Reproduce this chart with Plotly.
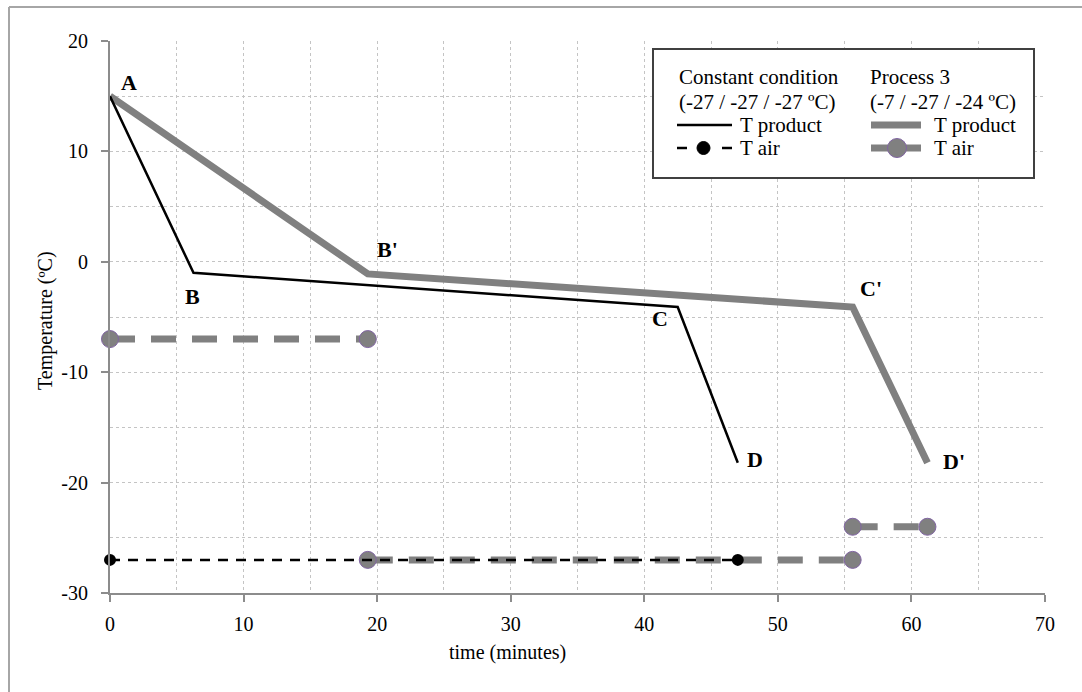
import plotly.graph_objects as go

# ---------------- data ----------------
# Constant condition (-27 / -27 / -27 ºC)
t_prod_const = [0, 6.25, 42.5, 47.0]
T_prod_const = [15, -1.0, -4.1, -18.2]
t_air_const = [0, 47.0]
T_air_const = [-27, -27]

# Process 3 (-7 / -27 / -24 ºC)
t_prod_p3 = [0, 19.3, 55.6, 61.2]
T_prod_p3 = [15, -1.1, -4.1, -18.2]
t_air_p3 = [0, 19.3, None, 19.3, 55.6, None, 55.6, 61.2]
T_air_p3 = [-7, -7, None, -27, -27, None, -24, -24]

# point labels (text, t, T)
point_labels = ["A", "B", "B'", "C", "C'", "D", "D'"]
label_t = [1.4, 6.2, 20.8, 41.2, 57.0, 48.3, 63.2]
label_T = [16.2, -3.1, 1.1, -5.1, -2.4, -17.9, -18.1]

x_ticks = [0, 10, 20, 30, 40, 50, 60, 70]
x_ticktext = ["0", "10", "20", "30", "40", "50", "60", "70"]
y_ticks = [-30, -20, -10, 0, 10, 20]
y_ticktext = ["-30", "-20", "-10", "0", "10", "20"]

# ---------------- layout geometry ----------------
W, H = 1082, 692
ML, MR, MT, MB = 110, 37, 41, 99
PW, PH = W - ML - MR, H - MT - MB


def px(x):
    return (x - ML) / PW


def py(y):
    return (H - MB - y) / PH


SERIF = "Liberation Serif"
GRAY = "#808080"
AXIS = "#8c8c8c"
GRID = "#c4c4c4"

fig = go.Figure()

# Process 3 air (grey dashed, circles)
fig.add_trace(go.Scatter(
    x=t_air_p3, y=T_air_p3, mode="lines+markers",
    line=dict(color=GRAY, width=7, dash="25px,16px"),
    marker=dict(size=17, color=GRAY, line=dict(color="#8064a2", width=1)),
    showlegend=False, connectgaps=False, cliponaxis=False))
# Process 3 product (grey thick)
fig.add_trace(go.Scatter(
    x=t_prod_p3, y=T_prod_p3, mode="lines",
    line=dict(color=GRAY, width=7), showlegend=False, cliponaxis=False))
# Constant product (black thin)
fig.add_trace(go.Scatter(
    x=t_prod_const, y=T_prod_const, mode="lines",
    line=dict(color="black", width=2.5), showlegend=False, cliponaxis=False))
# Constant air (black dashed, dots)
fig.add_trace(go.Scatter(
    x=t_air_const, y=T_air_const, mode="lines+markers",
    line=dict(color="black", width=2.5, dash="10px,8px"),
    marker=dict(size=12, color="black"), showlegend=False, cliponaxis=False))

# point letters
for txt, xt, yt in zip(point_labels, label_t, label_T):
    fig.add_annotation(x=xt, y=yt, xref="x", yref="y", text=f"<b>{txt}</b>",
                       xanchor="center", yanchor="middle",
                       showarrow=False, font=dict(family=SERIF, size=22, color="black"))

axis_common = dict(
    showline=True, linecolor=AXIS, linewidth=2,
    ticks="outside", ticklen=7, tickcolor=AXIS, tickwidth=2,
    showgrid=True, gridcolor=GRID, gridwidth=1, griddash="dot",
    zeroline=False,
    tickfont=dict(family=SERIF, size=20, color="black"),
)

fig.update_xaxes(range=[0, 70], tickvals=x_ticks, ticktext=x_ticktext, ticklabelstandoff=5,
                 minor=dict(dtick=5, tick0=0, showgrid=True, gridcolor=GRID, griddash="dot", gridwidth=1),
                 **axis_common)
fig.update_yaxes(range=[-30, 20], tickvals=y_ticks, ticktext=y_ticktext, ticklabelstandoff=9,
                 minor=dict(dtick=5, tick0=0, showgrid=True, gridcolor=GRID, griddash="dot", gridwidth=1),
                 **axis_common)

# axis titles
fig.add_annotation(x=px(507), y=py(652), xref="paper", yref="paper", text="time (minutes)",
                   xanchor="center", yanchor="middle",
                   showarrow=False, font=dict(family=SERIF, size=20, color="black"))
fig.add_annotation(x=px(45), y=py(321), xref="paper", yref="paper", text="Temperature (ºC)",
                   xanchor="center", yanchor="middle",
                   textangle=-90, showarrow=False, font=dict(family=SERIF, size=20, color="black"))

shapes = []
# outer chart border (left & top visible)
shapes.append(dict(type="line", xref="paper", yref="paper", x0=px(9), x1=px(9), y0=py(7), y1=py(700),
                   line=dict(color="#a6a6a6", width=2)))
shapes.append(dict(type="line", xref="paper", yref="paper", x0=px(9), x1=px(1090), y0=py(7), y1=py(7),
                   line=dict(color="#a6a6a6", width=2)))
# legend box
shapes.append(dict(type="rect", xref="paper", yref="paper", x0=px(653), x1=px(1034), y0=py(178), y1=py(49),
                   line=dict(color="#404040", width=2), fillcolor="white", layer="above"))
# legend samples - left column
shapes.append(dict(type="line", xref="paper", yref="paper", x0=px(677), x1=px(732), y0=py(125), y1=py(125),
                   line=dict(color="black", width=2.5), layer="above"))
shapes.append(dict(type="line", xref="paper", yref="paper", x0=px(677), x1=px(687), y0=py(148), y1=py(148),
                   line=dict(color="black", width=2.5), layer="above"))
shapes.append(dict(type="line", xref="paper", yref="paper", x0=px(722), x1=px(732), y0=py(148), y1=py(148),
                   line=dict(color="black", width=2.5), layer="above"))
shapes.append(dict(type="circle", xref="paper", yref="paper", x0=px(697), x1=px(710), y0=py(154.5), y1=py(141.5),
                   line=dict(color="black", width=1), fillcolor="black", layer="above"))
# legend samples - right column
shapes.append(dict(type="line", xref="paper", yref="paper", x0=px(871), x1=px(921), y0=py(125), y1=py(125),
                   line=dict(color=GRAY, width=7), layer="above"))
shapes.append(dict(type="line", xref="paper", yref="paper", x0=px(871), x1=px(921), y0=py(148), y1=py(148),
                   line=dict(color=GRAY, width=7), layer="above"))
shapes.append(dict(type="circle", xref="paper", yref="paper", x0=px(887.5), x1=px(906.5), y0=py(157.5), y1=py(138.5),
                   line=dict(color="#8064a2", width=1), fillcolor=GRAY, layer="above"))
fig.update_layout(shapes=shapes)

legend_texts = [
    ("Constant condition", 677, 77), ("(-27 / -27 / -27 ºC)", 677, 102),
    ("T product", 738, 125), ("T air", 738, 148),
    ("Process 3", 868, 77), ("(-7 / -27 / -24 ºC)", 868, 102),
    ("T product", 932, 125), ("T air", 932, 148),
]
for txt, lx, ly in legend_texts:
    fig.add_annotation(x=px(lx), y=py(ly), xref="paper", yref="paper", text=txt,
                       xanchor="left", yanchor="middle", showarrow=False,
                       font=dict(family=SERIF, size=21, color="black"))

fig.update_layout(
    width=W, height=H,
    margin=dict(l=ML, r=MR, t=MT, b=MB, autoexpand=False),
    paper_bgcolor="white", plot_bgcolor="white",
    showlegend=False,
)

fig.write_html("out.html")
